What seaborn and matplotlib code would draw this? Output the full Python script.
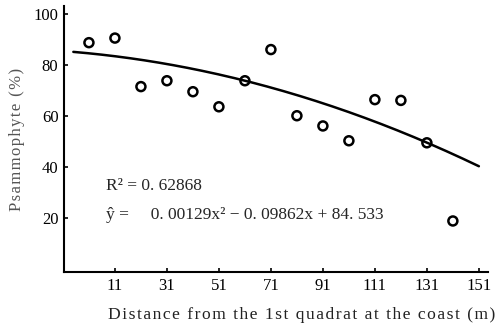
import numpy as np
import pandas as pd
import matplotlib
matplotlib.use("Agg")
import matplotlib.pyplot as plt
import seaborn as sns

# data
distance = [1, 11, 21, 31, 41, 51, 61, 71, 81, 91, 101, 111, 121, 131, 141]
psammophyte = [88.6, 90.4, 71.4, 73.7, 69.4, 63.5, 73.7, 85.9, 60.0, 56.0, 50.2, 66.3, 66.0, 49.4, 18.8]
# regression coefficients printed on the chart (x^2, x, const)
coefs = [-0.00129, -0.09862, 84.533]
curve_range = [-5, 151]
x_ticks = [11, 31, 51, 71, 91, 111, 131, 151]
y_ticks = [20, 40, 60, 80, 100]
r2_text = "R\u00b2 = 0. 62868"
eq_text = "\u0177 =     0. 00129x\u00b2 \u2212 0. 09862x + 84. 533"
xlabel = "Distance from the 1st quadrat at the coast (m)"
ylabel = "Psammophyte (%)"

sns.set_theme(style="ticks")
plt.rcParams['font.family'] = ['Liberation Serif', 'DejaVu Serif']
plt.rcParams['axes.unicode_minus'] = True

def spaced(s):
    return "\u200a".join(s)

fig = plt.figure(figsize=(5.01, 3.27), dpi=100)
ax = fig.add_axes([0.1277, 0.168, 0.8463, 0.814])

df = pd.DataFrame({"d": distance, "p": psammophyte})
xc = np.linspace(curve_range[0], curve_range[1], 200)
dc = pd.DataFrame({"x": xc, "y": np.polyval(coefs, xc)})
sns.lineplot(data=dc, x="x", y="y", ax=ax, color="black", linewidth=1.8)
sns.scatterplot(data=df, x="d", y="p", ax=ax, marker="o", s=42,
                facecolor="none", edgecolor="black", linewidth=1.8, zorder=3)

ax.set_xlim(-8.6, 154.5)
ax.set_ylim(-1.2, 103)
ax.set_xticks(x_ticks)
ax.set_yticks(y_ticks)
ax.tick_params(direction="in", length=3, width=1.2, labelsize=12, pad=4, colors="black")
for s in ["top", "right"]:
    ax.spines[s].set_visible(False)
for s in ["left", "bottom"]:
    ax.spines[s].set_linewidth(1.5)
    ax.spines[s].set_color("black")

ax.set_xlabel(spaced(xlabel), fontsize=12.6, color="#222222")
ax.xaxis.set_label_coords(0.56, -0.13)
ax.set_ylabel(spaced(ylabel), fontsize=12, color="#555555")
ax.yaxis.set_label_coords(-0.092, 0.5)

ax.text(0.098, 0.31, r2_text, transform=ax.transAxes, fontsize=12.5, va="baseline")
ax.text(0.098, 0.20, eq_text, transform=ax.transAxes, fontsize=12.5, va="baseline")

fig.savefig("out.png", dpi=100)
